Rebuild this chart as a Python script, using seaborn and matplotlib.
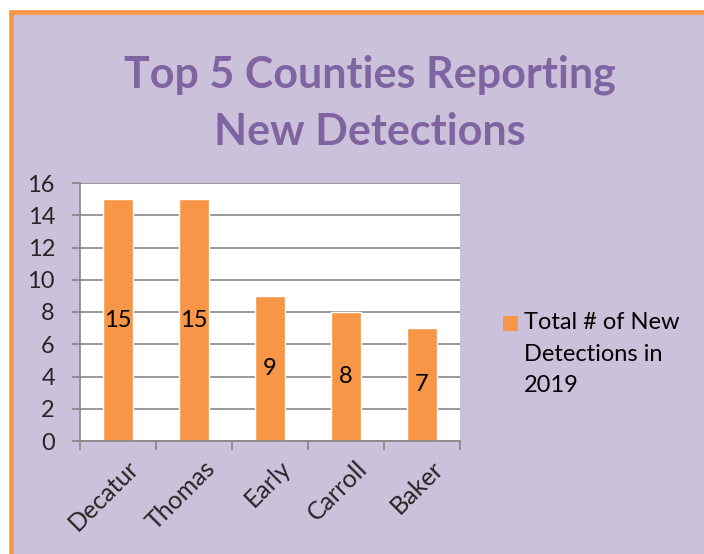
import pandas as pd
import seaborn as sns
import matplotlib.pyplot as plt
import matplotlib.transforms as mtransforms
from matplotlib.patches import Rectangle

# Data
counties = ['Decatur', 'Thomas', 'Early', 'Carroll', 'Baker']
detections = [15, 15, 9, 8, 7]
series_name = 'Total # of New\nDetections in\n2019'
title_lines = ['Top 5 Counties Reporting', 'New Detections']

df = pd.DataFrame({'county': counties, 'count': detections})

orange = '#F79646'
lavender = '#CCC1DA'
purple = '#8064A2'
grey = '#868686'

sns.set_style('white')
plt.rcParams['font.family'] = ['Lato', 'DejaVu Sans']

fig = plt.figure(figsize=(7.04, 5.54), dpi=100)
fig.patch.set_facecolor('white')

# Chart frame (orange border, lavender fill)
frame = Rectangle((11 / 704, -0.1), 1.2, 1 - 11.5 / 554 + 0.1, transform=fig.transFigure,
                  facecolor=lavender, edgecolor=orange, linewidth=3.4, zorder=-10)
fig.patches.append(frame)

# Title
fig.text(370 / 704, 1 - 75 / 554, title_lines[0], ha='center', va='center',
         fontsize=31, fontweight='bold', color=purple)
fig.text(370 / 704, 1 - 132 / 554, title_lines[1], ha='center', va='center',
         fontsize=31, fontweight='bold', color=purple)

ax = fig.add_axes([80 / 704, 1 - 441 / 554, 380 / 704, 258 / 554])
ax.set_facecolor('white')

sns.barplot(data=df, x='county', y='count', color=orange, width=0.39,
            saturation=1, ax=ax)

ax.set_ylim(0, 16)
ax.set_xlim(-0.5, len(counties) - 0.5)
ax.set_yticks(range(0, 17, 2))
ax.yaxis.grid(True, color=grey, linewidth=1.2)
ax.set_axisbelow(True)
ax.set_xlabel('')
ax.set_ylabel('')

for s in ['top', 'right']:
    ax.spines[s].set_visible(False)
for s in ['left', 'bottom']:
    ax.spines[s].set_color(grey)
    ax.spines[s].set_linewidth(1.2)

ax.tick_params(axis='y', direction='out', length=6, width=1.2, color=grey,
               labelsize=17, pad=12, left=True)
ax.set_xticks(range(len(counties)))
ax.set_xticklabels(counties, rotation=45, ha='right', va='top', rotation_mode='anchor')
ax.tick_params(axis='x', which='major', length=0, labelsize=18, pad=11)
offset = mtransforms.ScaledTranslation(9 / 100, 0, fig.dpi_scale_trans)
for lbl in ax.get_xticklabels():
    lbl.set_transform(lbl.get_transform() + offset)
ax.set_xticks([i - 0.5 for i in range(len(counties) + 1)], minor=True)
ax.tick_params(axis='x', which='minor', direction='out', length=6.5, width=1.2,
               color=grey, bottom=True)

# Data labels in the middle of each bar
for i, v in enumerate(detections):
    ax.text(i, v / 2, str(v), ha='center', va='center', fontsize=17, color='black')

# Legend (drawn by hand so the key sits on the first line)
fig.patches.append(Rectangle((503 / 704, 1 - 331 / 554), 15 / 704, 15 / 554,
                             transform=fig.transFigure, facecolor=orange,
                             edgecolor='none'))
fig.text(524 / 704, 1 - 312 / 554, series_name, ha='left', va='top',
         fontsize=17, linespacing=1.63, color='black')

fig.savefig('out.png', dpi=100)
